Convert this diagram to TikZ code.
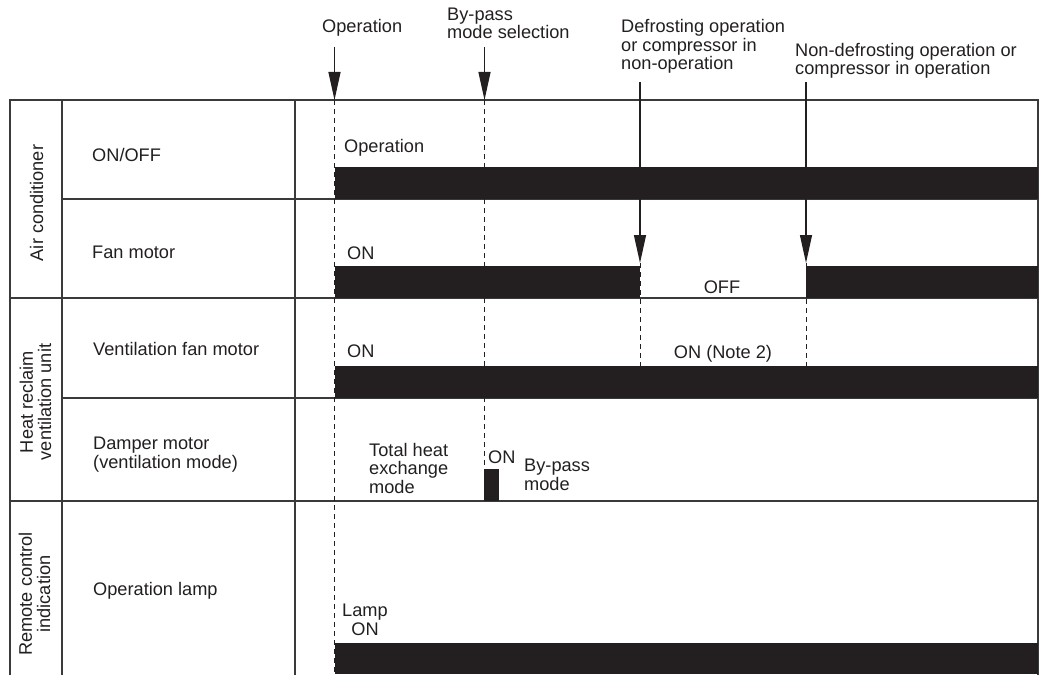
\documentclass[tikz,border=0pt]{standalone}
\usepackage{fontspec}
\setmainfont{Liberation Sans}
\usetikzlibrary{arrows.meta}
\definecolor{ink}{HTML}{231F20}
\definecolor{rulec}{HTML}{3A3A3A}
\begin{document}
\begin{tikzpicture}[x=1bp,y=-1bp,
  lbl/.style={inner sep=0pt, anchor=base west, font=\fontsize{18.2bp}{18.3bp}\selectfont, text=ink, align=left},
  clbl/.style={lbl, anchor=base, align=center},
  vlbl/.style={lbl, rotate=90, align=center},
  gridln/.style={draw=rulec, line width=1.3bp},
  dashln/.style={draw=ink, line width=1bp, dash pattern=on 5bp off 4bp},
  evarrow/.style={draw=ink, line width=1.2bp, -{Triangle[length=28bp,width=12bp]}},
  barfill/.style={fill=ink}]
\useasboundingbox (0,0) rectangle (1039,675);

% grid
\draw[gridln] (10,675) -- (10,100) -- (1038,100) -- (1038,675);
\draw[gridln] (62,100) -- (62,675);
\draw[gridln] (295,100) -- (295,675);
\draw[gridln] (62,199) -- (1038,199);
\draw[gridln] (10,298) -- (1038,298);
\draw[gridln] (62,398) -- (1038,398);
\draw[gridln] (10,501) -- (1038,501);

% bars
\fill[barfill] (335,167) rectangle (1038,199);
\fill[barfill] (335,266) rectangle (640,298);
\fill[barfill] (806,266) rectangle (1038,298);
\fill[barfill] (335,366) rectangle (1038,398);
\fill[barfill] (484,469) rectangle (499,501);
\fill[barfill] (335,643) rectangle (1038,674);

% event coordinates
\coordinate (opTop) at (334.5,47);
\coordinate (opTip) at (334.5,100);
\coordinate (opEnd) at (334.5,674);
\coordinate (bpTop) at (484.5,47);
\coordinate (bpTip) at (484.5,100);
\coordinate (bpEnd) at (484.5,469);
\coordinate (dfTop) at (640,82);
\coordinate (dfTip) at (640,263);
\coordinate (dfEnd) at (640,366);
\coordinate (ndTop) at (806,82);
\coordinate (ndTip) at (806,263);
\coordinate (ndEnd) at (806,366);

% dashed time lines
\draw[dashln] (opTip) -- (opEnd);
\draw[dashln] (bpTip) -- (bpEnd);
\draw[dashln] (dfTip) -- (dfEnd);
\draw[dashln] (ndTip) -- (ndEnd);

% event arrows
\draw[evarrow] (opTop) -- (opTip);
\draw[evarrow] (bpTop) -- (bpTip);
\draw[evarrow] (dfTop) -- (dfTip);
\draw[evarrow] (ndTop) -- (ndTip);

% event labels
\node[lbl] (tOp) at (322,33) {Operation};
\node[lbl] (tBp) at (447,38.5) {By-pass\\mode selection};
\node[lbl] (tDf) at (621,69.5) {Defrosting operation\\or compressor in\\non-operation};
\node[lbl] (tNd) at (795,74.5) {Non-defrosting operation or\\compressor in operation};

% group labels
\node[vlbl, anchor=base] (gAc) at (43,203) {Air conditioner};
\node[vlbl, anchor=center] (gHr) at (35.5,402) {Heat reclaim\\ventilation unit};
\node[vlbl, anchor=center] (gRc) at (34.5,594) {Remote control\\indication};

% row labels
\node[lbl] (rOnOff) at (92,162) {ON/OFF};
\node[lbl] (rFan) at (92,258) {Fan motor};
\node[lbl] (rVent) at (93,355) {Ventilation fan motor};
\node[lbl] (rDamp) at (93,468) {Damper motor\\(ventilation mode)};
\node[lbl] (rLamp) at (93,595) {Operation lamp};

% state labels
\node[lbl] (sOp) at (344,153) {Operation};
\node[lbl] (sFanOn) at (347,259) {ON};
\node[clbl] (sFanOff) at (722,293) {OFF};
\node[lbl] (sVentOn) at (347,357) {ON};
\node[clbl] (sVentNote) at (723,358) {ON (Note 2)};
\node[lbl] (sTotal) at (369,493) {Total heat\\exchange\\mode};
\node[lbl] (sDampOn) at (488,463) {ON};
\node[lbl] (sBypass) at (524,490) {By-pass\\mode};
\node[clbl] (sLamp) at (365,635) {Lamp\\ON};
\end{tikzpicture}
\end{document}
